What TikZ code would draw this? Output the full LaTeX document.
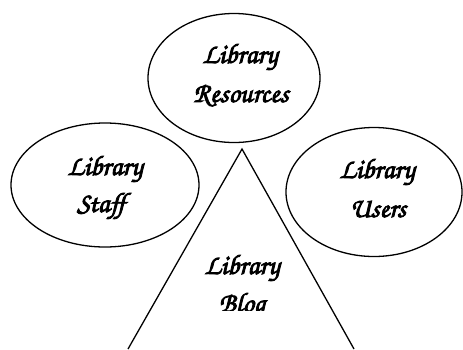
\documentclass[tikz,border=0pt]{standalone}
\usepackage{fontspec}
\newfontfamily\chorus[FakeBold=3]{TeX Gyre Chorus}
\usetikzlibrary{shapes.geometric}
\tikzset{
  oval/.style={draw, line width=1.3pt, ellipse, inner sep=0pt},
  lbl/.style={font=\chorus\fontsize{28}{38}\selectfont, align=center, inner sep=0pt},
  side/.style={draw, line width=1.3pt}
}
\begin{document}
\begin{tikzpicture}[x=1pt,y=-1pt]
\useasboundingbox (0,0) rectangle (463,349);
\node[oval, minimum width=172pt, minimum height=129pt] (res) at (234,78) {};
\node[oval, minimum width=188pt, minimum height=124pt] (staff) at (105,185) {};
\node[oval, minimum width=176pt, minimum height=129pt] (users) at (374,192) {};
\node[lbl, anchor=base] (resA) at (240,63) {Library};
\node[lbl, anchor=base] (resB) at (241,102) {Resources};
\node[lbl, anchor=base] (staffA) at (105,175) {Library};
\node[lbl, anchor=base] (staffB) at (101,212) {Staff};
\node[lbl, anchor=base] (usersA) at (377,178) {Library};
\node[lbl, anchor=base] (usersB) at (378,217) {Users};
\coordinate (apex) at (242,149);
\coordinate (bl) at (128,349);
\coordinate (br) at (354,349);
\begin{scope}
\clip (0,0) rectangle (463,349);
\draw[side] (bl) -- (apex) -- (br);
\end{scope}
\node[lbl, anchor=base] (blogA) at (242,274) {Library};
\begin{scope}
\clip (0,0) rectangle (463,310);
\node[lbl, anchor=base] (blogB) at (242,312) {Blog};
\end{scope}
\end{tikzpicture}
\end{document}
